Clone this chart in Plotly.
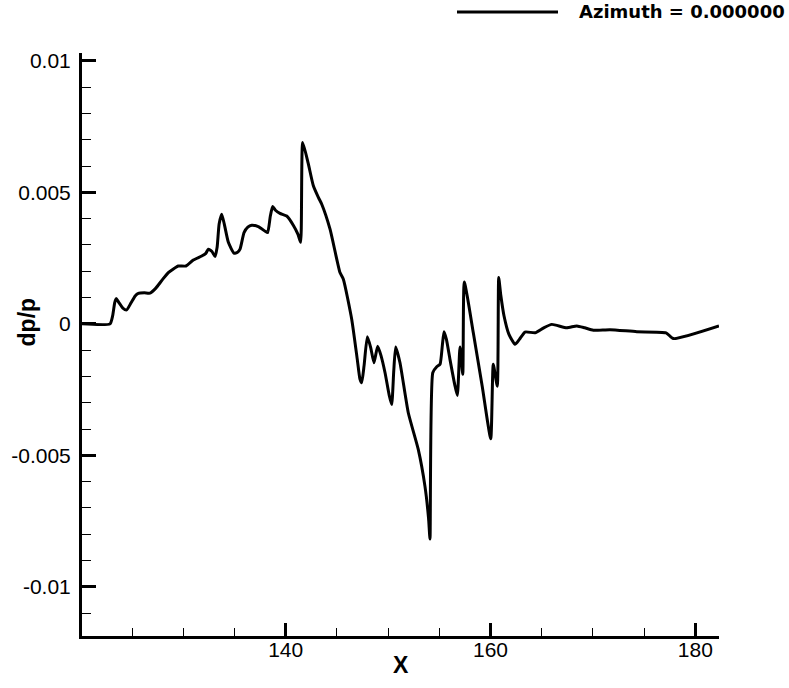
import plotly.graph_objects as go

# Pressure signature dp/p along X (azimuth 0)
x_vals = [
    120.11, 122.85, 123.1, 123.3, 123.44, 123.7, 124.1, 124.47, 124.9, 125.3,
    125.61, 126.2, 126.75, 127.3, 128.0, 128.54, 129.0, 129.51, 130.26, 130.98,
    131.8, 132.2, 132.44, 132.8, 133.1, 133.3, 133.5, 133.75, 134.0, 134.4,
    134.95, 135.3, 135.54, 135.93, 136.3, 136.68, 137.32, 138.0, 138.24, 138.5,
    138.73, 139.0, 139.44, 140.1, 140.74, 141.2, 141.46, 141.66, 142.2, 142.7,
    143.2, 143.52, 144.33, 145.3, 145.63, 146.45, 146.99, 147.25, 147.42, 147.65,
    147.97, 148.3, 148.62, 148.98, 149.3, 149.7, 150.1, 150.35, 150.55, 150.74,
    151.16, 151.97, 152.95, 153.6, 153.95, 154.09, 154.36, 154.75, 155.07, 155.3,
    155.46, 155.7, 156.04, 156.5, 156.76, 157.02, 157.29, 157.44, 158.32, 159.2,
    160.02, 160.27, 160.66, 160.8, 161.0, 161.32, 161.8, 162.39, 162.8, 163.37,
    164.35, 165.2, 165.98, 167.44, 168.42, 169.2, 170.04, 171.67, 174.28, 177.14,
    177.85, 182.31,
]
dpp_vals = [
    0.0, 0.0, 0.0003, 0.0008, 0.00096, 0.00082, 0.0006, 0.00053, 0.0008, 0.00106,
    0.00116, 0.00118, 0.00117, 0.00135, 0.0017, 0.00195, 0.00208, 0.0022, 0.0022, 0.00243,
    0.00258, 0.00268, 0.00284, 0.00275, 0.00256, 0.0029, 0.0038, 0.00417, 0.0038, 0.0031,
    0.00269, 0.00272, 0.00284, 0.00347, 0.00368, 0.00375, 0.0037, 0.00352, 0.00347, 0.0041,
    0.00446, 0.00432, 0.0042, 0.0041, 0.00375, 0.0034, 0.0031, 0.0069, 0.0061, 0.00525,
    0.0048, 0.00455, 0.0036, 0.00195, 0.0017, 0.00017, -0.00135, -0.0021, -0.00224, -0.0016,
    -0.00049, -0.0009, -0.00148, -0.00085, -0.0012, -0.00186, -0.0027, -0.00307, -0.0018, -0.00088,
    -0.00148, -0.00338, -0.00478, -0.00618, -0.0074, -0.00818, -0.00186, -0.00163, -0.00154, -0.0008,
    -0.0003, -0.0006, -0.00135, -0.0023, -0.00272, -0.00088, -0.00192, 0.00159, -0.00034, -0.0024,
    -0.00437, -0.00154, -0.00237, 0.00176, 0.0011, 0.0003, -0.0004, -0.00078, -0.0006, -0.00031,
    -0.00034, -0.00015, -0.00002, -0.00015, -0.00008, -0.00015, -0.00024, -0.00022, -0.0003, -0.00034,
    -0.00056, -0.00008,
]

y_ticks = [-0.01, -0.005, 0.0, 0.005, 0.01]
y_tick_text = ["-0.01", "-0.005", "0", "0.005", "0.01"]
x_ticks = [140, 160, 180]
x_tick_text = ["140", "160", "180"]
legend_label = "Azimuth = 0.000000"
x_title = "X"
y_title = "dp/p"

fig = go.Figure()
fig.add_trace(go.Scatter(
    x=x_vals, y=dpp_vals, mode="lines",
    line=dict(color="black", width=3, shape="spline", smoothing=0.5),
    name=legend_label, showlegend=False,
))

tick_font = dict(family="Liberation Sans, Arial, sans-serif", size=21, color="black")
title_font = dict(family="Liberation Sans, Arial, sans-serif", size=23, color="black")

fig.update_xaxes(
    range=[120.11, 182.31], automargin=False,
    showgrid=False, zeroline=False,
    showline=True, linecolor="black", linewidth=3,
    tickmode="array", tickvals=x_ticks, ticktext=x_tick_text,
    ticks="inside", ticklen=13, tickwidth=3, tickcolor="black",
    ticklabelstandoff=-7,
    minor=dict(dtick=5, ticks="inside", ticklen=8, tickwidth=1, tickcolor="black", showgrid=False),
    tickfont=tick_font,
)
fig.update_yaxes(
    range=[-0.01187, 0.0103], automargin=False,
    showgrid=False, zeroline=False,
    showline=True, linecolor="black", linewidth=3,
    tickmode="array", tickvals=y_ticks, ticktext=y_tick_text,
    ticks="inside", ticklen=14, tickwidth=3, tickcolor="black",
    ticklabelstandoff=4,
    minor=dict(dtick=0.001, tick0=0, ticks="inside", ticklen=9, tickwidth=1, tickcolor="black", showgrid=False),
    tickfont=tick_font,
)

# Axis titles placed in pixel offsets from the plot frame
fig.add_annotation(xref="paper", yref="paper", x=(401 - 82) / 637, y=0,
                   yshift=-29, xanchor="center", yanchor="middle", showarrow=False,
                   text="<b>" + x_title + "</b>", font=title_font)
fig.add_annotation(xref="paper", yref="paper", x=0, y=(636 - 323) / 582,
                   xshift=-55, xanchor="center", yanchor="middle", showarrow=False,
                   textangle=-90, text="<b>" + y_title + "</b>", font=title_font)

# Legend: line sample plus label above the plot
fig.add_shape(type="line", xref="paper", yref="paper",
              x0=(457 - 82) / 637, x1=(558 - 82) / 637,
              y0=(636 - 13) / 582, y1=(636 - 13) / 582,
              line=dict(color="black", width=3))
fig.add_annotation(xref="paper", yref="paper",
                   x=(577 - 82) / 637, y=(636 - 13) / 582,
                   xanchor="left", yanchor="middle", showarrow=False,
                   text="<b>" + legend_label + "</b>",
                   font=dict(family="DejaVu Sans, sans-serif", size=18, color="black"))

fig.update_layout(
    width=789, height=688,
    margin=dict(l=82, r=70, t=53, b=52),
    paper_bgcolor="white", plot_bgcolor="white",
)

fig.write_html("out.html")
